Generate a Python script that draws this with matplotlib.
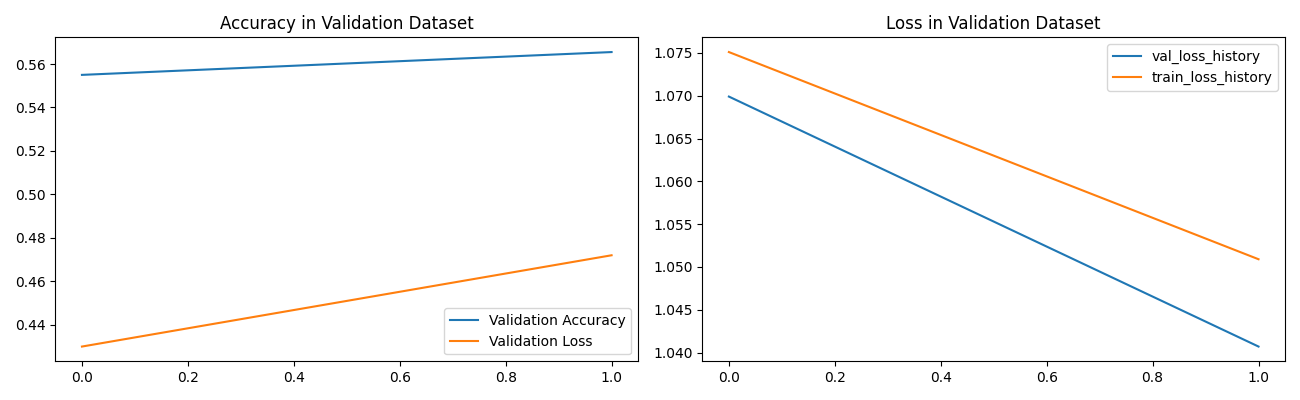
import matplotlib
matplotlib.use("Agg")
import matplotlib.pyplot as plt

epochs = [0, 1]
val_accuracy = [0.5550, 0.5655]
val_loss_left = [0.4300, 0.4720]
val_loss_history = [1.0699, 1.0407]
train_loss_history = [1.0751, 1.0509]

fig, (ax1, ax2) = plt.subplots(1, 2, figsize=(13, 4), dpi=100)

ax1.plot(epochs, val_accuracy, label='Validation Accuracy')
ax1.plot(epochs, val_loss_left, label='Validation Loss')
ax1.set_title('Accuracy in Validation Dataset')
ax1.legend(loc='lower right')

ax2.plot(epochs, val_loss_history, label='val_loss_history')
ax2.plot(epochs, train_loss_history, label='train_loss_history')
ax2.set_title('Loss in Validation Dataset')
ax2.legend(loc='upper right')

plt.tight_layout()
plt.savefig('out.png')
